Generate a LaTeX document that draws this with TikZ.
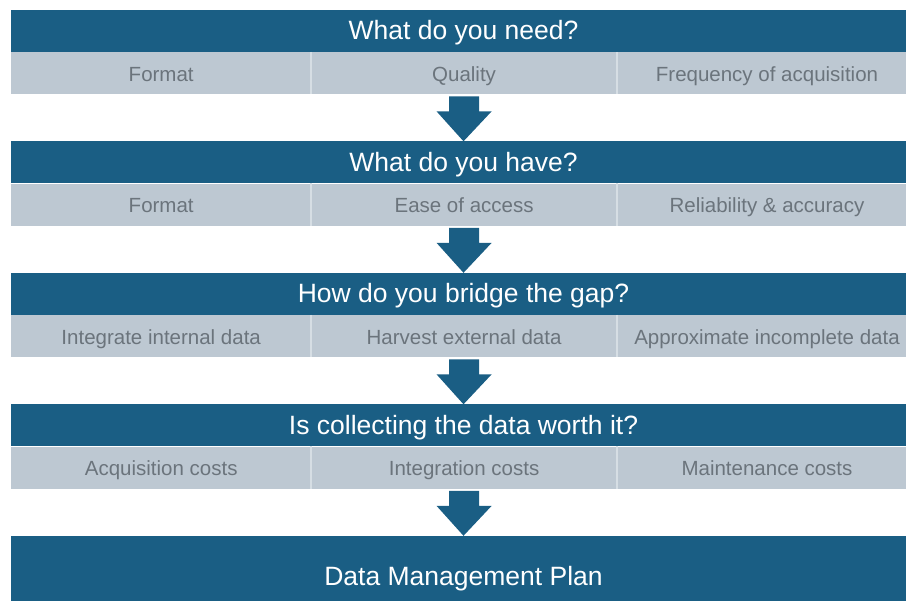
\documentclass[tikz,border=0pt]{standalone}
\usepackage{fontspec}
\setmainfont{Liberation Sans}
\usetikzlibrary{positioning,calc}
\definecolor{dmpblue}{HTML}{1A5E84}
\definecolor{dmpgrey}{HTML}{BDC8D2}
\definecolor{dmptext}{HTML}{6B747C}
\definecolor{dmpline}{HTML}{D6DEE4}

\begin{document}
\begin{tikzpicture}[x=1pt,y=-1pt,
    title/.style={fill=dmpblue, text=white, inner sep=0pt, minimum width=905pt,
      minimum height=42pt, text height=19pt, text depth=1pt,
      font=\fontsize{26.5}{30}\selectfont},
    cell/.style={fill=dmpgrey, text=dmptext, inner sep=0pt, minimum height=42pt,
      text height=17pt, text depth=1pt, font=\fontsize{20.5}{24}\selectfont},
    divider/.style={dmpline, line width=2pt},
    blockarrow/.style={fill=dmpblue}]
    \useasboundingbox (0,0) rectangle (906,601);
    \clip (0,0) rectangle (906,601);

    % Questions with their three criteria
    \foreach \i/\top/\ask/\ca/\cb/\cc in {
        1/10/{What do you need?}/Format/Quality/{Frequency of acquisition},
        2/141.5/{What do you have?}/Format/{Ease of access}/{Reliability \& accuracy},
        3/273/{How do you bridge the gap?}/{Integrate internal data}/{Harvest external data}/{Approximate incomplete data},
        4/404.5/{Is collecting the data worth it?}/{Acquisition costs}/{Integration costs}/{Maintenance costs}} {
        \node[title] (t\i) at (463.5,\top+21) {\ask};
        \node[cell, minimum width=300pt, anchor=north west] (q\i l) at (11,\top+42) {\ca};
        \node[cell, minimum width=305pt, right=0pt of q\i l] (q\i m) {\cb};
        \node[cell, minimum width=300pt, right=0pt of q\i m] (q\i r) {\cc};
        \draw[divider] (q\i l.north east) -- (q\i l.south east);
        \draw[divider] (q\i m.north east) -- (q\i m.south east);
    }

    % Result
    \node[title, minimum height=82pt] (plan) at (463.5,577) {Data Management Plan};

    % Block arrows
    \foreach \i/\j in {1/t2, 2/t3, 3/t4, 4/plan} {
        \fill[blockarrow] ($(q\i m.south)+(-15,2)$) -- ($(q\i m.south)+(15,2)$)
            -- ($(q\i m.south)+(15,17)$) -- ($(q\i m.south)+(27.5,17)$)
            -- (\j.north) -- ($(q\i m.south)+(-27.5,17)$)
            -- ($(q\i m.south)+(-15,17)$) -- cycle;
    }
\end{tikzpicture}
\end{document}
